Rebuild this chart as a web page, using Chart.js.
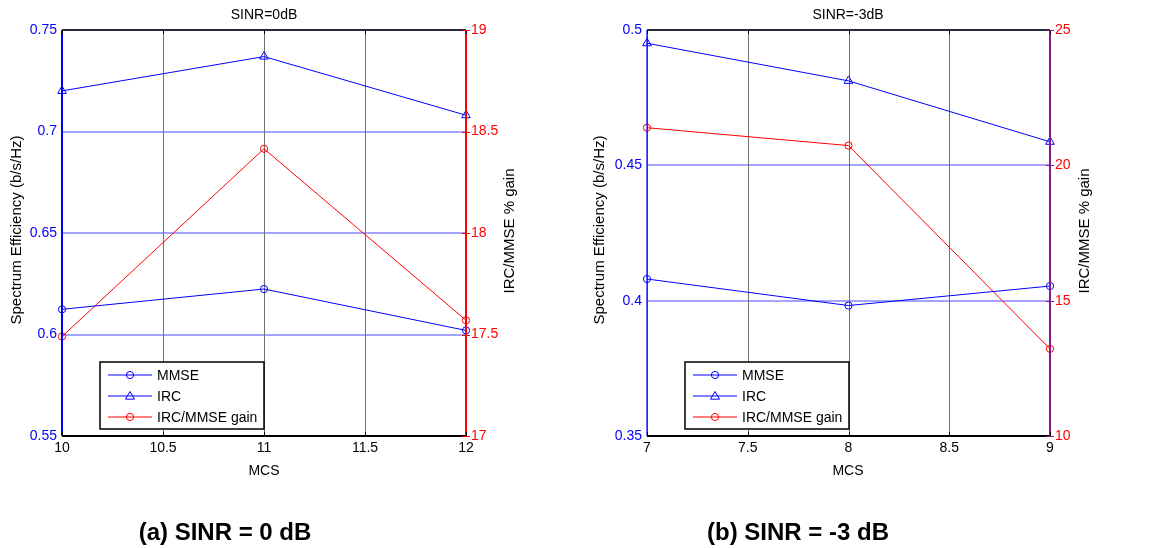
<!DOCTYPE html>
<html>
<head>
<meta charset="utf-8">
<script src="https://cdn.jsdelivr.net/npm/chart.js@4.4.0/dist/chart.umd.min.js"></script>
<style>
  html, body { margin: 0; padding: 0; background: #fff; }
  body { width: 1150px; height: 548px; position: relative; overflow: hidden; font-family: "Liberation Sans", Arial, sans-serif; }
  .panel { position: absolute; top: 0; width: 575px; height: 548px; }
  .panel canvas { position: absolute; left: 0; top: 0; }
  .lbl { position: absolute; white-space: nowrap; transform: translate(-50%, -50%); font-size: 14px; color: #000; }
  .vt { position: absolute; width: 240px; height: 18px; line-height: 18px; text-align: center; white-space: nowrap; font-size: 15px; color: #000; transform: rotate(-90deg); transform-origin: 120px 9px; }
  .cap { font-weight: bold; font-size: 24px; }
</style>
</head>
<body>
<div class="panel" id="pa" style="left:0">
  <canvas id="ca" width="575" height="548"></canvas>
  <div class="lbl" style="left:264px; top:14px;">SINR=0dB</div>
  <div class="lbl" style="left:264px; top:470px;">MCS</div>
  <div class="vt" style="left:-104px; top:221px;">Spectrum Efficiency (b/s/Hz)</div>
  <div class="vt" style="left:389px; top:222px;">IRC/MMSE % gain</div>
  <div class="lbl cap" style="left:225px; top:532px;">(a) SINR = 0 dB</div>
</div>
<div class="panel" id="pb" style="left:575px">
  <canvas id="cb" width="575" height="548"></canvas>
  <div class="lbl" style="left:273px; top:14px;">SINR=-3dB</div>
  <div class="lbl" style="left:273px; top:470px;">MCS</div>
  <div class="vt" style="left:-96px; top:221px;">Spectrum Efficiency (b/s/Hz)</div>
  <div class="vt" style="left:389px; top:222px;">IRC/MMSE % gain</div>
  <div class="lbl cap" style="left:223px; top:532px;">(b) SINR = -3 dB</div>
</div>
<script>
// ---------- DATA ----------
// Panel (a): SINR = 0 dB
const mcsA = [10, 11, 12];
const mmseA = [0.6124, 0.6224, 0.6020];
const ircA = [0.7200, 0.7369, 0.7080];
const gainA = [17.49, 18.415, 17.57];
const xTicksA = [10, 10.5, 11, 11.5, 12];
const leftTicksA = [0.55, 0.6, 0.65, 0.7, 0.75];
const rightTicksA = [17, 17.5, 18, 18.5, 19];

// Panel (b): SINR = -3 dB
const mcsB = [7, 8, 9];
const mmseB = [0.4080, 0.3982, 0.4054];
const ircB = [0.4951, 0.4812, 0.4587];
const gainB = [21.39, 20.73, 13.22];
const xTicksB = [7, 7.5, 8, 8.5, 9];
const leftTicksB = [0.35, 0.4, 0.45, 0.5];
const rightTicksB = [10, 15, 20, 25];

const seriesNames = ['MMSE', 'IRC', 'IRC/MMSE gain'];

// ---------- HELPERS ----------
const FONT = '"Liberation Sans", Arial, sans-serif';
const pts = (xs, ys) => xs.map((x, i) => ({ x: x, y: ys[i] }));
const fmt = v => String(+(+v).toFixed(4));
const setTicks = arr => (scale) => { scale.ticks = arr.map(v => ({ value: v })); };

function drawMarker(ctx, style, x, y, color) {
  ctx.save();
  ctx.strokeStyle = color;
  ctx.lineWidth = 1;
  ctx.beginPath();
  if (style === 'triangle') {
    const r = 4.5;
    ctx.moveTo(x, y - r);
    ctx.lineTo(x + r, y + r * 0.7);
    ctx.lineTo(x - r, y + r * 0.7);
    ctx.closePath();
  } else {
    ctx.arc(x, y, 3.6, 0, Math.PI * 2);
  }
  ctx.stroke();
  ctx.restore();
}

const legendPlugin = {
  id: 'matlabLegend',
  afterDraw(chart, args, opts) {
    const ctx = chart.ctx;
    const { x, y, w, h } = opts;
    ctx.save();
    ctx.fillStyle = '#fff';
    ctx.fillRect(x, y, w, h);
    ctx.strokeStyle = '#000';
    ctx.lineWidth = 1.5;
    ctx.strokeRect(x, y, w, h);
    chart.data.datasets.forEach((ds, i) => {
      const ry = y + 13 + i * 21;
      ctx.strokeStyle = ds.borderColor;
      ctx.lineWidth = 1;
      ctx.beginPath();
      ctx.moveTo(x + 8, ry);
      ctx.lineTo(x + 52, ry);
      ctx.stroke();
      drawMarker(ctx, ds.pointStyle, x + 30, ry, ds.borderColor);
      ctx.fillStyle = '#000';
      ctx.font = '14px ' + FONT;
      ctx.textBaseline = 'middle';
      ctx.textAlign = 'left';
      ctx.fillText(ds.label, x + 57, ry + 1);
    });
    ctx.restore();
  }
};

const gridPlugin = {
  id: 'matlabGrid',
  beforeDatasetsDraw(chart, args, opts) {
    const ctx = chart.ctx;
    const a = chart.chartArea;
    ctx.save();
    // horizontal light-blue grid at left-axis ticks
    ctx.lineWidth = 2;
    ctx.strokeStyle = '#a4a4ff';
    const y = chart.scales.y;
    y.ticks.forEach(t => {
      const py = Math.round(y.getPixelForValue(t.value));
      ctx.beginPath(); ctx.moveTo(a.left, py); ctx.lineTo(a.right, py); ctx.stroke();
    });
    // vertical gray grid at x ticks
    ctx.lineWidth = 1;
    ctx.strokeStyle = '#707070';
    const xs = chart.scales.x;
    xs.ticks.forEach(t => {
      const px = Math.round(xs.getPixelForValue(t.value)) + 0.5;
      ctx.beginPath(); ctx.moveTo(px, a.top); ctx.lineTo(px, a.bottom); ctx.stroke();
    });
    ctx.restore();
  },
  afterDatasetsDraw(chart, args, opts) {
    const ctx = chart.ctx;
    const a = chart.chartArea;
    ctx.save();
    // frame
    ctx.lineWidth = 1.5;
    ctx.strokeStyle = '#000';
    ctx.beginPath(); ctx.moveTo(a.left, a.top); ctx.lineTo(a.right, a.top); ctx.stroke();
    ctx.lineWidth = 2;
    ctx.beginPath(); ctx.moveTo(a.left, a.bottom); ctx.lineTo(a.right, a.bottom); ctx.stroke();
    ctx.strokeStyle = '#0000ff';
    ctx.lineWidth = opts.leftBorder;
    ctx.beginPath(); ctx.moveTo(a.left, a.top); ctx.lineTo(a.left, a.bottom); ctx.stroke();
    ctx.strokeStyle = opts.rightColor;
    ctx.lineWidth = 2;
    ctx.beginPath(); ctx.moveTo(a.right, a.top); ctx.lineTo(a.right, a.bottom); ctx.stroke();
    // inward ticks
    ctx.lineWidth = 1;
    ctx.strokeStyle = '#000';
    const xs = chart.scales.x;
    xs.ticks.forEach(t => {
      const px = Math.round(xs.getPixelForValue(t.value)) + 0.5;
      ctx.beginPath(); ctx.moveTo(px, a.top); ctx.lineTo(px, a.top + 4); ctx.stroke();
      ctx.beginPath(); ctx.moveTo(px, a.bottom); ctx.lineTo(px, a.bottom - 4); ctx.stroke();
    });
    const y2 = chart.scales.y2;
    ctx.strokeStyle = opts.rightColor;
    y2.ticks.forEach(t => {
      const py = Math.round(y2.getPixelForValue(t.value)) + 0.5;
      ctx.beginPath(); ctx.moveTo(a.right - 4, py); ctx.lineTo(a.right + 4, py); ctx.stroke();
    });
    ctx.restore();
  }
};

function makeChart(canvasId, cfg) {
  const datasets = [
    { label: seriesNames[0], data: pts(cfg.mcs, cfg.mmse), yAxisID: 'y', borderColor: '#0000ff', pointStyle: 'circle', pointRadius: 3.6, pointBorderColor: '#0000ff', pointBackgroundColor: 'rgba(0,0,0,0)', pointBorderWidth: 1, borderWidth: 1, clip: false },
    { label: seriesNames[1], data: pts(cfg.mcs, cfg.irc), yAxisID: 'y', borderColor: '#0000ff', pointStyle: 'triangle', pointRadius: 5, pointBorderColor: '#0000ff', pointBackgroundColor: 'rgba(0,0,0,0)', pointBorderWidth: 1, borderWidth: 1, clip: false },
    { label: seriesNames[2], data: pts(cfg.mcs, cfg.gain), yAxisID: 'y2', borderColor: '#ff0000', pointStyle: 'circle', pointRadius: 3.6, pointBorderColor: '#ff0000', pointBackgroundColor: 'rgba(0,0,0,0)', pointBorderWidth: 1, borderWidth: 1, clip: false }
  ];
  return new Chart(document.getElementById(canvasId), {
    type: 'line',
    data: { datasets },
    plugins: [gridPlugin, legendPlugin],
    options: {
      responsive: false,
      animation: false,
      events: [],
      layout: { padding: { top: 30, left: 0, right: 0, bottom: 0 } },
      plugins: {
        legend: { display: false },
        tooltip: { enabled: false },
        title: { display: false },
        matlabLegend: cfg.legend,
        matlabGrid: { rightColor: cfg.rightColor, leftBorder: cfg.leftBorder }
      },
      elements: { line: { tension: 0 } },
      scales: {
        x: {
          type: 'linear', position: 'bottom',
          min: cfg.xTicks[0], max: cfg.xTicks[cfg.xTicks.length - 1],
          afterBuildTicks: setTicks(cfg.xTicks),
          afterFit: s => { s.height = 548 - 436; },
          grid: { display: false, drawTicks: false },
          border: { display: false },
          ticks: { color: '#000', font: { family: FONT, size: 14 }, padding: 4, callback: fmt, maxRotation: 0, autoSkip: false }
        },
        y: {
          type: 'linear', position: 'left',
          min: cfg.leftTicks[0], max: cfg.leftTicks[cfg.leftTicks.length - 1],
          afterBuildTicks: setTicks(cfg.leftTicks),
          afterFit: s => { s.width = cfg.leftW; },
          grid: { display: false, drawTicks: false },
          border: { display: false },
          ticks: { color: '#0000ff', font: { family: FONT, size: 14 }, padding: 5, callback: fmt, autoSkip: false }
        },
        y2: {
          type: 'linear', position: 'right',
          min: cfg.rightTicks[0], max: cfg.rightTicks[cfg.rightTicks.length - 1],
          afterBuildTicks: setTicks(cfg.rightTicks),
          afterFit: s => { s.width = 575 - cfg.rightEdge; },
          grid: { display: false, drawTicks: false },
          border: { display: false },
          ticks: { color: '#ff0000', font: { family: FONT, size: 14 }, padding: 5, callback: fmt, autoSkip: false }
        }
      }
    }
  });
}

makeChart('ca', {
  mcs: mcsA, mmse: mmseA, irc: ircA, gain: gainA,
  xTicks: xTicksA, leftTicks: leftTicksA, rightTicks: rightTicksA,
  leftW: 62, rightEdge: 466, leftBorder: 2, rightColor: '#ff0000',
  legend: { x: 100, y: 362, w: 164, h: 67 }
});
makeChart('cb', {
  mcs: mcsB, mmse: mmseB, irc: ircB, gain: gainB,
  xTicks: xTicksB, leftTicks: leftTicksB, rightTicks: rightTicksB,
  leftW: 72, rightEdge: 475, leftBorder: 1.2, rightColor: '#8a1a8a',
  legend: { x: 110, y: 362, w: 164, h: 67 }
});
</script>
</body>
</html>
